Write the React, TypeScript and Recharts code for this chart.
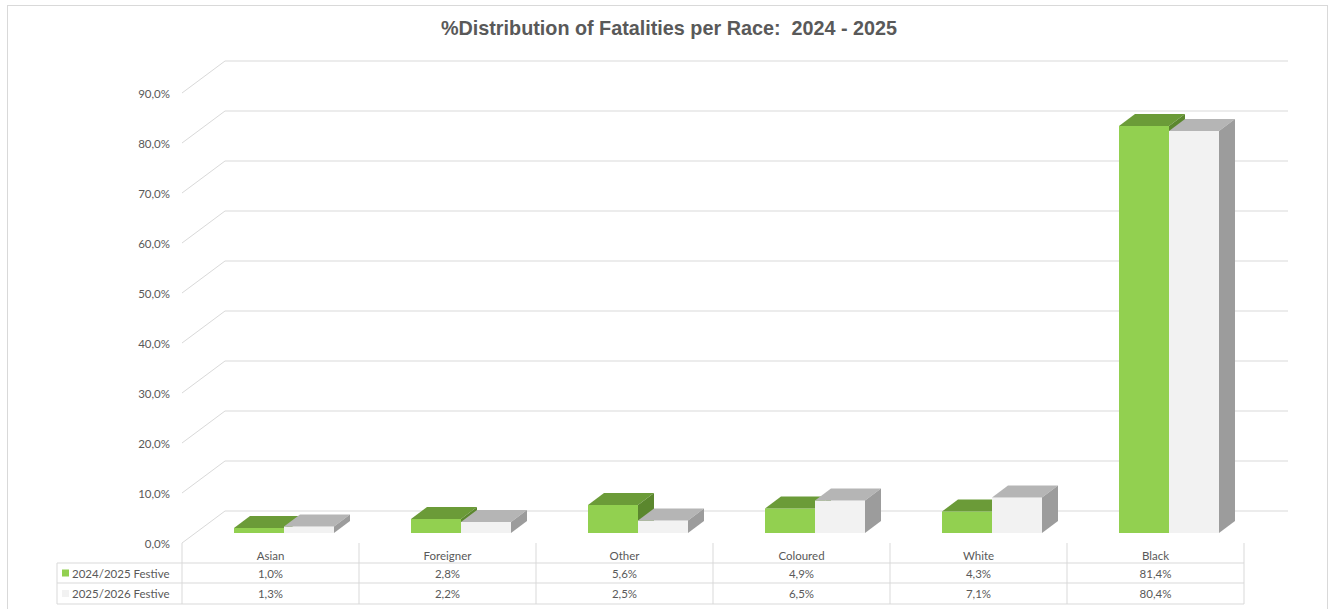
import { BarChart, Bar, XAxis, YAxis, CartesianGrid } from "recharts";

const categories = ["Asian", "Foreigner", "Other", "Coloured", "White", "Black"];
const festive2024 = [1.0, 2.8, 5.6, 4.9, 4.3, 81.4];
const festive2025 = [1.3, 2.2, 2.5, 6.5, 7.1, 80.4];
const seriesNames = ["2024/2025 Festive", "2025/2026 Festive"];
const yTicks = [0, 10, 20, 30, 40, 50, 60, 70, 80, 90];

const data = categories.map((name, i) => ({
  name,
  a: festive2024[i],
  b: festive2025[i],
}));

const W = 1333;
const H = 609;
const PLOT_LEFT = 182;
const PLOT_RIGHT = 1244;
const BAND = (PLOT_RIGHT - PLOT_LEFT) / categories.length;
const FONT = "Lato, 'Open Sans', sans-serif";
const TEXT = "#595959";
const LINE = "#d9d9d9";

// 3d offsets
const DEPTH_X = 43;
const DEPTH_Y = 32;
const FRONT_DY = 10;
const BAR_SHIFT = 13;
const BAR_DX = 16;
const BAR_DY = 12;

const GREEN = { front: "#92d050", top: "#6b9b38", side: "#5b872e" };
const GREY = { front: "#f2f2f2", top: "#b5b5b5", side: "#9c9c9c" };

const fmt = (v: number) => v.toFixed(1).replace(".", ",") + "%";

function Box(props: any) {
  const { x, y, width, height, colors } = props;
  if (width == null || height == null) return null;
  const x0 = x + BAR_SHIFT;
  const x1 = x0 + width;
  const yb = y + height;
  return (
    <g>
      <rect x={x0} y={y} width={width} height={height} fill={colors.front} />
      <polygon
        points={`${x0},${y} ${x0 + BAR_DX},${y - BAR_DY} ${x1 + BAR_DX},${y - BAR_DY} ${x1},${y}`}
        fill={colors.top}
      />
      <polygon
        points={`${x1},${y} ${x1 + BAR_DX},${y - BAR_DY} ${x1 + BAR_DX},${yb - BAR_DY} ${x1},${yb}`}
        fill={colors.side}
      />
    </g>
  );
}

function GridLine(props: any) {
  const { x1, y1 } = props;
  const yFront = y1 + FRONT_DY;
  const yBack = yFront - DEPTH_Y;
  return (
    <g key={props.key}>
      <line x1={x1} y1={yFront} x2={x1 + DEPTH_X} y2={yBack} stroke={LINE} strokeWidth={1} />
      <line x1={x1 + DEPTH_X} y1={yBack} x2={1288} y2={yBack} stroke={LINE} strokeWidth={1} />
    </g>
  );
}

function YTick(props: any) {
  const { y, payload } = props;
  return (
    <text
      x={170}
      y={y + FRONT_DY}
      textAnchor="end"
      dominantBaseline="central"
      fontFamily={FONT}
      fontSize={11.5}
      fill={TEXT}
    >
      {fmt(payload.value)}
    </text>
  );
}

const T_TOP = 543;
const R1 = 563;
const R2 = 583;
const R3 = 604;

function TableTick(props: any) {
  const { x, payload, index } = props;
  const l = x - BAND / 2;
  const r = x + BAND / 2;
  const i = index ?? payload.index;
  const txt = { fontFamily: FONT, fontSize: 11.5, fill: TEXT, textAnchor: "middle" as const, dominantBaseline: "central" as const };
  return (
    <g>
      <line x1={l} y1={T_TOP} x2={l} y2={R3} stroke={LINE} />
      {i === categories.length - 1 && <line x1={r} y1={T_TOP} x2={r} y2={R3} stroke={LINE} />}
      {[R1, R2, R3].map((yy) => (
        <line key={yy} x1={l} y1={yy} x2={r} y2={yy} stroke={LINE} />
      ))}
      <text x={x} y={(T_TOP + R1) / 2 + 2} {...txt}>{payload.value}</text>
      <text x={x} y={(R1 + R2) / 2} {...txt}>{fmt(festive2024[i])}</text>
      <text x={x} y={(R2 + R3) / 2} {...txt}>{fmt(festive2025[i])}</text>
      {i === 0 && (
        <g>
          <line x1={57} y1={R1} x2={57} y2={R3} stroke={LINE} />
          {[R1, R2, R3].map((yy) => (
            <line key={yy} x1={57} y1={yy} x2={l} y2={yy} stroke={LINE} />
          ))}
          <rect x={62} y={(R1 + R2) / 2 - 3.5} width={7} height={7} fill={GREEN.front} />
          <rect x={62} y={(R2 + R3) / 2 - 3.5} width={7} height={7} fill={GREY.front} />
          <text x={72} y={(R1 + R2) / 2} {...txt} textAnchor="start">{seriesNames[0]}</text>
          <text x={72} y={(R2 + R3) / 2} {...txt} textAnchor="start">{seriesNames[1]}</text>
        </g>
      )}
    </g>
  );
}

export default function App() {
  return (
    <div style={{ position: "absolute", left: 0, top: 0, width: W, height: H, overflow: "hidden", background: "#fff" }}>
      <div
        style={{
          position: "absolute",
          left: 7,
          top: 5,
          width: 1321,
          height: 610,
          border: `1px solid ${LINE}`,
          boxSizing: "border-box",
        }}
      />
      <div
        style={{
          position: "absolute",
          left: 0,
          width: 1338,
          top: 16,
          textAlign: "center",
          fontFamily: "'Liberation Sans', Arial, sans-serif",
          fontWeight: "bold",
          fontSize: 19.8,
          color: TEXT,
          lineHeight: "24px",
          whiteSpace: "pre",
        }}
      >
        {"%Distribution of Fatalities per Race:  2024 - 2025"}
      </div>
      <div style={{ position: "absolute", left: 0, top: 0 }}>
        <BarChart
          width={W}
          height={H}
          data={data}
          margin={{ top: 83, right: W - PLOT_RIGHT, bottom: 0, left: PLOT_LEFT - 60 }}
          barSize={50}
          barGap={0}
        >
          <CartesianGrid vertical={false} horizontal={(p: any) => <GridLine {...p} />} />
          <XAxis
            dataKey="name"
            axisLine={false}
            tickLine={false}
            height={76}
            interval={0}
            tick={(p: any) => <TableTick {...p} />}
          />
          <YAxis
            width={60}
            domain={[0, 90]}
            ticks={yTicks}
            axisLine={false}
            tickLine={false}
            tick={(p: any) => <YTick {...p} />}
          />
          <Bar dataKey="a" name={seriesNames[0]} isAnimationActive={false} shape={(p: any) => <Box {...p} colors={GREEN} />} />
          <Bar dataKey="b" name={seriesNames[1]} isAnimationActive={false} shape={(p: any) => <Box {...p} colors={GREY} />} />
        </BarChart>
      </div>
    </div>
  );
}
